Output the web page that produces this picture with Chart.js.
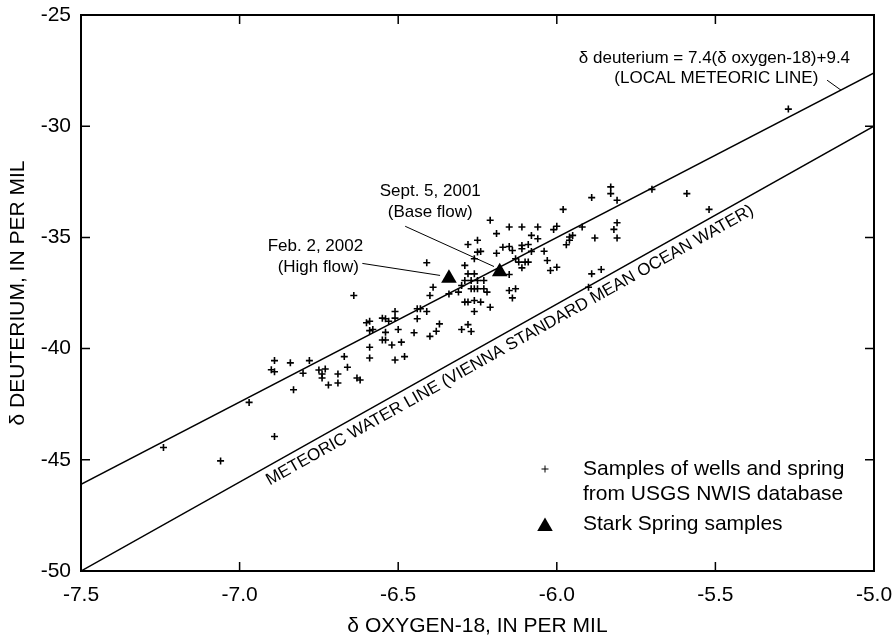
<!DOCTYPE html>
<html>
<head>
<meta charset="utf-8">
<title>Stable isotopes, Stark Spring</title>
<script src="https://cdn.jsdelivr.net/npm/chart.js@4.4.1/dist/chart.umd.min.js"></script>
<style>
  html, body { margin: 0; padding: 0; background: #fff; }
  #isoChart { display: block; }
</style>
</head>
<body>
<canvas id="isoChart" width="893" height="641"></canvas>
<script>
// ==========================================
//  DELTA D vs DELTA 18O  -  WELLS, SPRINGS, STARK SPRING
// ==========================================

// === DATA ===
const X_TICKS = [-7.5, -7.0, -6.5, -6.0, -5.5, -5.0];
const Y_TICKS = [-50, -45, -40, -35, -30, -25];

// NWIS wells and springs (per mil)
const OXYGEN_18 = [
  -7.24, -7.06, -6.97, -6.90, -6.89, -6.89, -6.89, -6.84, -6.83, -6.80, -6.78,
  -6.75, -6.74, -6.74, -6.73, -6.72, -6.69, -6.69, -6.67, -6.66, -6.64, -6.63,
  -6.62, -6.60, -6.59, -6.59, -6.59, -6.59, -6.58, -6.55, -6.55, -6.54, -6.54,
  -6.54, -6.53, -6.52, -6.51, -6.51, -6.51, -6.50, -6.49, -6.48, -6.45, -6.44,
  -6.44, -6.43, -6.41, -6.41, -6.40, -6.40, -6.39, -6.38, -6.37, -6.34, -6.31,
  -6.30, -6.30, -6.29, -6.29, -6.29, -6.28, -6.28, -6.28, -6.28, -6.27, -6.27,
  -6.27, -6.26, -6.26, -6.26, -6.26, -6.26, -6.25, -6.25, -6.25, -6.25, -6.24,
  -6.24, -6.23, -6.23, -6.22, -6.21, -6.21, -6.19, -6.19, -6.17, -6.15, -6.15,
  -6.15, -6.15, -6.14, -6.14, -6.13, -6.13, -6.12, -6.11, -6.11, -6.11, -6.11,
  -6.10, -6.09, -6.09, -6.08, -6.08, -6.06, -6.06, -6.04, -6.03, -6.02, -6.01,
  -6.00, -6.00, -5.98, -5.97, -5.96, -5.96, -5.95, -5.92, -5.90, -5.89, -5.89,
  -5.88, -5.86, -5.83, -5.83, -5.82, -5.81, -5.81, -5.81, -5.70, -5.59, -5.52,
  -5.27
];
const DEUTERIUM = [
  -44.45, -45.05, -42.42, -40.95, -40.54, -41.04, -43.95, -40.64, -41.85, -41.11, -40.54,
  -40.96, -41.32, -41.14, -40.92, -41.64, -41.14, -41.55, -40.36, -40.84, -37.61, -41.32,
  -41.41, -38.84, -38.77, -39.19, -39.94, -40.42, -39.14, -38.63, -39.61, -38.66, -39.61,
  -39.27, -38.77, -39.84, -38.33, -40.51, -38.63, -39.14, -39.71, -40.36, -39.29, -38.21,
  -38.66, -38.21, -36.14, -38.33, -37.61, -39.45, -37.24, -39.22, -38.89, -37.54, -37.46,
  -37.16, -39.14, -37.91, -36.26, -36.94, -37.91, -38.92, -35.32, -36.64, -39.23, -36.94,
  -37.31, -38.33, -35.96, -36.64, -37.31, -37.84, -35.13, -35.66, -36.94, -37.31, -37.91,
  -35.63, -37.31, -36.94, -37.46, -34.23, -38.14, -34.83, -35.71, -35.44, -36.67, -37.39,
  -34.53, -35.41, -37.72, -35.59, -37.31, -35.96, -36.11, -34.53, -35.36, -35.51, -36.37,
  -36.11, -35.32, -36.11, -34.91, -35.63, -34.53, -35.06, -35.62, -36.04, -36.49, -34.65,
  -34.50, -36.34, -33.74, -35.33, -34.98, -35.13, -34.91, -34.53, -37.24, -33.21, -36.64,
  -35.03, -36.44, -33.03, -32.73, -34.64, -33.33, -34.34, -35.03, -32.84, -33.03, -33.74,
  -29.23
];

// Stark Spring samples
const STARK_DATES     = ['Feb. 2, 2002', 'Sept. 5, 2001'];
const STARK_FLOWS     = ['(High flow)', '(Base flow)'];
const STARK_OXYGEN_18 = [-6.34, -6.18];
const STARK_DEUTERIUM = [-36.84, -36.55];

// lines: [slope, intercept]
const LINE_X_ENDS = [-7.5, -5.0];
const LOCAL_MWL   = [7.4, 9.4];
const GLOBAL_MWL  = [8, 10];

// === LAYOUT / STYLE ===
const FONT_FAMILY = '"Liberation Sans", Arial, Helvetica, sans-serif';
const FONT_BIG    = '21px ' + FONT_FAMILY;
const FONT_SMALL  = '17px ' + FONT_FAMILY;
const INK         = '#000';
const TICK_LEN    = 9;

function toPoints(xs, ys) {
  return xs.map(function (x, i) { return { x: x, y: ys[i] }; });
}
function linePoints(coef) {
  return LINE_X_ENDS.map(function (x) { return { x: x, y: coef[0] * x + coef[1] }; });
}

// === DECORATIONS (frame, inside ticks, notes, legend, axis titles) ===
const decorations = {
  id: 'decorations',
  afterDatasetsDraw: function (chart) {
    const ctx = chart.ctx;
    const a = chart.chartArea;
    const xs = chart.scales.x;
    const ys = chart.scales.y;
    const px = function (v) { return xs.getPixelForValue(v); };
    const py = function (v) { return ys.getPixelForValue(v); };

    ctx.save();
    ctx.strokeStyle = INK;
    ctx.fillStyle = INK;

    // frame
    ctx.lineWidth = 2;
    ctx.strokeRect(a.left, a.top, a.right - a.left, a.bottom - a.top);

    // inside ticks on all four sides
    ctx.lineWidth = 1.5;
    ctx.beginPath();
    X_TICKS.forEach(function (v) {
      const p = px(v);
      ctx.moveTo(p, a.bottom); ctx.lineTo(p, a.bottom - TICK_LEN);
      ctx.moveTo(p, a.top);    ctx.lineTo(p, a.top + TICK_LEN);
    });
    Y_TICKS.forEach(function (v) {
      const p = py(v);
      ctx.moveTo(a.left, p);  ctx.lineTo(a.left + TICK_LEN, p);
      ctx.moveTo(a.right, p); ctx.lineTo(a.right - TICK_LEN, p);
    });
    ctx.stroke();

    // leader lines
    ctx.lineWidth = 1;
    function leader(x1, y1, x2, y2) {
      ctx.beginPath();
      ctx.moveTo(px(x1), py(y1));
      ctx.lineTo(px(x2), py(y2));
      ctx.stroke();
    }
    leader(-6.613, -36.17, -6.368, -36.71);   // Feb 2002
    leader(-6.478, -34.50, -6.198, -36.31);   // Sept 2001
    leader(-5.148, -27.93, -5.104, -28.38);   // local line

    // notes
    ctx.font = FONT_SMALL;
    ctx.textAlign = 'center';
    ctx.textBaseline = 'middle';
    ctx.fillText(STARK_DATES[0], px(-6.761), py(-35.41));
    ctx.fillText(STARK_FLOWS[0], px(-6.752), py(-36.35));
    ctx.fillText(STARK_DATES[1], px(-6.399), py(-32.93));
    ctx.fillText(STARK_FLOWS[1], px(-6.399), py(-33.87));
    ctx.fillText('\u03B4 deuterium = 7.4(\u03B4 oxygen-18)+9.4', px(-5.503), py(-26.94));
    ctx.fillText('(LOCAL METEORIC LINE)', px(-5.497), py(-27.84));

    // rotated label along the global meteoric water line
    const g = linePoints(GLOBAL_MWL);
    const ang = Math.atan2(py(g[1].y) - py(g[0].y), px(g[1].x) - px(g[0].x));
    ctx.save();
    ctx.translate(px(-6.148), py(-39.86));
    ctx.rotate(ang);
    ctx.fillText('METEORIC WATER LINE (VIENNA STANDARD MEAN OCEAN WATER)', 0, 0);
    ctx.restore();

    // legend
    const lx = a.left + 464;
    const tx = a.left + 502;
    Chart.helpers.drawPoint(ctx, { pointStyle: 'cross', radius: 3.5, borderWidth: 1.6 }, lx, a.top + 454);
    Chart.helpers.drawPoint(ctx, { pointStyle: 'triangle', radius: 9, borderWidth: 0 }, lx, a.top + 511.5);
    ctx.font = FONT_BIG;
    ctx.textAlign = 'left';
    ctx.fillText('Samples of wells and spring', tx, a.top + 454);
    ctx.fillText('from USGS NWIS database', tx, a.top + 479);
    ctx.fillText('Stark Spring samples', tx, a.top + 509.5);

    // axis titles
    ctx.textAlign = 'center';
    ctx.fillText('\u03B4 OXYGEN-18, IN PER MIL', (a.left + a.right) / 2, a.bottom + 55);
    ctx.save();
    ctx.translate(18, (a.top + a.bottom) / 2);
    ctx.rotate(-Math.PI / 2);
    ctx.fillText('\u03B4 DEUTERIUM, IN PER MIL', 0, 0);
    ctx.restore();

    ctx.restore();
  }
};

// === CHART ===
new Chart(document.getElementById('isoChart').getContext('2d'), {
  type: 'scatter',
  data: {
    datasets: [
      {
        label:            'Stark Spring samples',
        data:             toPoints(STARK_OXYGEN_18, STARK_DEUTERIUM),
        pointStyle:       'triangle',
        pointRadius:      9,
        backgroundColor:  INK,
        borderColor:      INK,
        borderWidth:      0,
      },
      {
        label:        'Samples of wells and spring from USGS NWIS database',
        data:         toPoints(OXYGEN_18, DEUTERIUM),
        pointStyle:   'cross',
        pointRadius:  3.5,
        borderColor:  INK,
        borderWidth:  1.6,
      },
      {
        label:        'Local meteoric line',
        data:         linePoints(LOCAL_MWL),
        showLine:     true,
        borderColor:  INK,
        borderWidth:  1.5,
        pointRadius:  0,
      },
      {
        label:        'Meteoric water line (VSMOW)',
        data:         linePoints(GLOBAL_MWL),
        showLine:     true,
        borderColor:  INK,
        borderWidth:  1.5,
        pointRadius:  0,
      },
    ],
  },
  options: {
    responsive: false,
    animation:  false,
    layout: { padding: { left: 0, right: 19, top: 15, bottom: 0 } },
    plugins: {
      legend:  { display: false },
      tooltip: { enabled: false },
    },
    scales: {
      x: {
        type: 'linear',
        min:  X_TICKS[0],
        max:  X_TICKS[X_TICKS.length - 1],
        afterBuildTicks: function (s) { s.ticks = X_TICKS.map(function (v) { return { value: v }; }); },
        afterFit:        function (s) { s.height = 70; s.paddingLeft = 0; s.paddingRight = 0; },
        grid:   { display: false, drawTicks: false },
        border: { display: false },
        ticks:  {
          font: { family: FONT_FAMILY, size: 21 },
          color: INK,
          padding: 12,
          maxRotation: 0,
          callback: function (v) { return Number(v).toFixed(1); },
        },
      },
      y: {
        type: 'linear',
        min:  Y_TICKS[0],
        max:  Y_TICKS[Y_TICKS.length - 1],
        afterBuildTicks: function (s) { s.ticks = Y_TICKS.map(function (v) { return { value: v }; }); },
        afterFit:        function (s) { s.width = 81; s.paddingTop = 0; s.paddingBottom = 0; },
        grid:   { display: false, drawTicks: false },
        border: { display: false },
        ticks:  {
          font: { family: FONT_FAMILY, size: 21 },
          color: INK,
          padding: 10,
        },
      },
    },
  },
  plugins: [decorations],
});
</script>
</body>
</html>
